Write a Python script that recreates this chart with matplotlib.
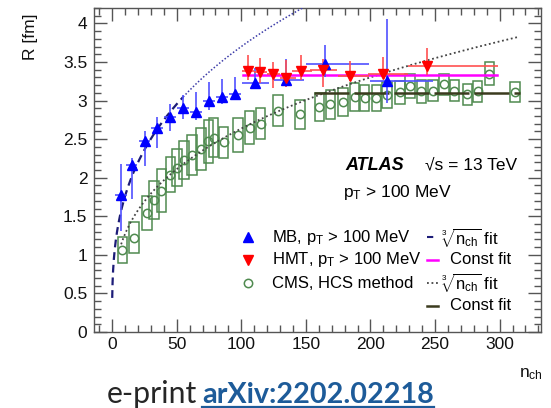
import matplotlib
matplotlib.use('Agg')
import matplotlib.pyplot as plt
import numpy as np
from matplotlib.lines import Line2D
from matplotlib.ticker import MultipleLocator

plt.rcParams['font.family'] = ['Liberation Sans', 'DejaVu Sans']
plt.rcParams['mathtext.fontset'] = 'custom'
plt.rcParams['mathtext.rm'] = 'Liberation Sans'
plt.rcParams['mathtext.it'] = 'Liberation Sans:italic'
plt.rcParams['mathtext.bf'] = 'Liberation Sans:bold'

# ---------------- data ----------------
# ATLAS MB, pT > 100 MeV
mb_n = [6.7, 15.1, 25.2, 35.0, 45.0, 55.0, 65.0, 75.0, 85.0, 95.0, 110.8, 135.0, 165.0, 213.0]
mb_R = [1.78, 2.17, 2.47, 2.65, 2.79, 2.91, 2.85, 2.99, 3.05, 3.08, 3.23, 3.27, 3.48, 3.26]
mb_err_lo = [0.47, 0.45, 0.32, 0.26, 0.18, 0.15, 0.10, 0.11, 0.10, 0.07, 0.07, 0.09, 0.17, 0.29]
mb_err_hi = [0.40, 0.08, 0.14, 0.14, 0.16, 0.16, 0.26, 0.25, 0.23, 0.22, 0.19, 0.27, 0.24, 0.80]
mb_xerr_lo = [4.5, 4.5, 4.5, 4.5, 4.5, 4.5, 4.5, 4.5, 4.5, 4.5, 10.5, 10.0, 15.0, 13.0]
mb_xerr_hi = [4.5, 4.5, 4.5, 4.5, 4.5, 4.5, 4.5, 4.5, 4.5, 4.5, 11.0, 13.5, 33.5, 35.5]

# ATLAS HMT, pT > 100 MeV
hmt_n = [105.0, 114.6, 124.6, 135.0, 146.4, 163.0, 184.0, 210.0, 244.0]
hmt_R = [3.38, 3.37, 3.34, 3.29, 3.38, 3.39, 3.32, 3.35, 3.45]
hmt_err_lo = [0.11, 0.14, 0.18, 0.11, 0.11, 0.21, 0.07, 0.06, 0.12]
hmt_err_hi = [0.21, 0.18, 0.16, 0.24, 0.21, 0.15, 0.19, 0.21, 0.23]
hmt_xerr_lo = [4.5, 4.5, 5.0, 5.0, 7.5, 9.5, 9.0, 12.0, 15.0]
hmt_xerr_hi = [5.0, 5.0, 5.0, 7.5, 8.5, 11.0, 14.5, 19.0, 54.5]

# CMS, HCS method
cms_n = [7.9, 16.9, 27.2, 32.3, 38.2, 45.1, 50.2, 55.5, 61.8, 69.0, 74.6, 78.5, 86.4, 97.5,
         106.5, 115.0, 128.3, 145.5, 160.5, 169.0, 178.7, 187.7, 195.4, 204.5, 213.0, 222.8,
         230.5, 239.5, 248.5, 256.9, 265.0, 275.0, 283.0, 292.0, 312.0]
cms_R = [1.065, 1.22, 1.54, 1.71, 1.83, 2.04, 2.13, 2.23, 2.29, 2.37, 2.47, 2.52, 2.46, 2.55,
         2.65, 2.70, 2.87, 2.82, 2.92, 2.95, 2.98, 3.05, 3.03, 3.03, 3.07, 3.11,
         3.19, 3.12, 3.13, 3.21, 3.13, 3.08, 3.12, 3.35, 3.11]
cms_syst = [0.17, 0.20, 0.22, 0.25, 0.28, 0.23, 0.24, 0.25, 0.26, 0.27, 0.28, 0.25, 0.20, 0.22,
            0.21, 0.20, 0.20, 0.19, 0.18, 0.19, 0.18, 0.18, 0.17, 0.17, 0.17, 0.15,
            0.16, 0.15, 0.14, 0.14, 0.14, 0.14, 0.14, 0.15, 0.13]

# fits: R = a * n^(1/3) + b, and constants
mb_fit_a, mb_fit_b = 0.78, 0.08
mb_fit_range = (0.1, 55.0)
mb_fit_extrap_end = 160.0
cms_fit_a, cms_fit_b = 0.55, 0.085
cms_fit_range = (7.0, 315.0)
hmt_const = 3.33
hmt_const_range = (101.0, 298.0)
cms_const = 3.10
cms_const_range = (156.0, 316.0)

x_ticks = [0, 50, 100, 150, 200, 250, 300]
y_ticks = [0, 0.5, 1, 1.5, 2, 2.5, 3, 3.5, 4]

# ---------------- figure ----------------
W, H = 551, 408
fig = plt.figure(figsize=(W / 100, H / 100), dpi=100)
ax = fig.add_axes([94 / W, 1 - 332 / H, (541 - 94) / W, (332 - 8) / H])

def fx(px):
    return px / W

def fy(py):
    return 1 - py / H

GREEN = '#4f8a4f'
BLUE = '#0000ff'
RED = '#ff0000'
NAVY = '#1c1c78'
MAG = '#ff00ff'
OLIVE = '#3b3b1e'

# CMS systematic boxes
cms_n_a = np.array(cms_n)
cms_R_a = np.array(cms_R)
cms_s_a = np.array(cms_syst)
ax.bar(cms_n_a, 2 * cms_s_a, bottom=cms_R_a - cms_s_a, width=7.4, fill=False,
       edgecolor=GREEN, linewidth=1.1, zorder=2)
ax.plot(cms_n, cms_R, linestyle='none', marker='o', markersize=6, markerfacecolor='none',
        markeredgecolor=GREEN, markeredgewidth=1.1, zorder=3)

# fits
n1 = np.linspace(*mb_fit_range, 400)
ax.plot(n1, mb_fit_a * np.cbrt(n1) + mb_fit_b, color=NAVY, lw=1.6, dashes=(3.5, 2.2), zorder=4)
n2 = np.linspace(mb_fit_range[1], mb_fit_extrap_end, 300)
ax.plot(n2, mb_fit_a * np.cbrt(n2) + mb_fit_b, color='#3c3ca8', lw=1.1, dashes=(1, 1.3), zorder=4)
n3 = np.linspace(*cms_fit_range, 400)
ax.plot(n3, cms_fit_a * np.cbrt(n3) + cms_fit_b, color='#444444', lw=1.3, dashes=(1, 1.5), zorder=4)
ax.plot(hmt_const_range, [hmt_const, hmt_const], color=MAG, lw=1.8, zorder=4)
ax.plot(cms_const_range, [cms_const, cms_const], color=OLIVE, lw=1.8, dashes=(14, 2), zorder=4)

# ATLAS points
ax.errorbar(mb_n, mb_R, yerr=[mb_err_lo, mb_err_hi], xerr=[mb_xerr_lo, mb_xerr_hi], fmt='none',
            ecolor='#5050ff', elinewidth=1.2, capsize=0, zorder=5)
ax.plot(mb_n, mb_R, linestyle='none', marker='^', markersize=7.5, color=BLUE, zorder=6)
ax.errorbar(hmt_n, hmt_R, yerr=[hmt_err_lo, hmt_err_hi], xerr=[hmt_xerr_lo, hmt_xerr_hi], fmt='none',
            ecolor='#ff5050', elinewidth=1.2, capsize=0, zorder=5)
ax.plot(hmt_n, hmt_R, linestyle='none', marker='v', markersize=7.5, color=RED, zorder=6)

# axes styling
ax.set_xlim(-14, 332)
ax.set_ylim(0, 4.2)
ax.set_xticks(x_ticks)
ax.set_yticks(y_ticks)
ax.set_yticklabels(['0', '0.5', '1', '1.5', '2', '2.5', '3', '3.5', '4'])
ax.xaxis.set_minor_locator(MultipleLocator(10))
ax.yaxis.set_minor_locator(MultipleLocator(0.1))
SP = '#555555'
for s in ax.spines.values():
    s.set_color(SP)
    s.set_linewidth(1.0)
ax.tick_params(which='both', direction='in', top=True, right=True, color=SP, width=1.0,
               labelsize=12.5, labelcolor='#111111')
ax.tick_params(which='major', length=9.5)
ax.tick_params(which='minor', length=5)
ax.tick_params(axis='y', which='major', pad=4.8)
ax.tick_params(axis='x', which='major', pad=3.5)

# axis labels
fig.text(fx(30.5), fy(13), 'R [fm]', rotation=90, ha='center', va='top', fontsize=12.5, color='#111111')
fig.text(fx(543), fy(377), r'n$_{\mathrm{ch}}$', ha='right', va='baseline', fontsize=12.5, color='#111111')

# ATLAS label
fig.text(fx(345), fy(165), 'ATLAS', fontsize=13, fontweight='bold', fontstyle='italic',
         va='center', ha='left', color='black')
fig.text(fx(425), fy(165), '\u221as = 13 TeV', fontsize=12.5, va='center', ha='left', color='black')
fig.text(fx(343), fy(193), r'p$_{\mathrm{T}}$ > 100 MeV', fontsize=12.5, va='center', ha='left', color='black')

# legend (manual)
rows = [237, 259.5, 283, 306]
mx = 248
tx1 = 272
lx0, lx1 = 427, 438
tx2_root = 441
tx2_const = 450
tr = fig.transFigure
def glyph(py, **kw):
    fig.add_artist(Line2D([fx(mx)], [fy(py)], transform=tr, linestyle='none', **kw))
def seg(py, **kw):
    fig.add_artist(Line2D([fx(lx0), fx(lx1)], [fy(py), fy(py)], transform=tr, **kw))

glyph(rows[0], marker='^', markersize=7.5, color=BLUE)
glyph(rows[1], marker='v', markersize=7.5, color=RED)
glyph(rows[2], marker='o', markersize=6, markerfacecolor='none', markeredgecolor=GREEN, markeredgewidth=1.1)
seg(rows[0], color=NAVY, lw=1.5, dashes=(3, 2.5))
seg(rows[1], color=MAG, lw=1.8)
seg(rows[2], color='#444444', lw=1.3, dashes=(1, 1.5))
seg(rows[3], color=OLIVE, lw=1.8)

leg1 = [r'MB, p$_{\mathrm{T}}$ > 100 MeV', r'HMT, p$_{\mathrm{T}}$ > 100 MeV', 'CMS, HCS method']
for py, t in zip(rows, leg1):
    fig.text(fx(tx1), fy(py), t, fontsize=12, va='center', ha='left', color='black')
leg2 = [r'$\sqrt[3]{\mathrm{n_{ch}}}$ fit', 'Const fit', r'$\sqrt[3]{\mathrm{n_{ch}}}$ fit', 'Const fit']
for py, t in zip(rows, leg2):
    x0 = tx2_const if t.startswith('Const') else tx2_root
    fig.text(fx(x0), fy(py), t, fontsize=12, va='center', ha='left', color='black')

# bottom caption
t1 = fig.text(fx(107), fy(403), 'e-print', fontsize=22, family=['Lato', 'DejaVu Sans'],
              va='baseline', ha='left', color='#262626')
t2 = fig.text(fx(202), fy(403), 'arXiv:2202.02218', fontsize=22, fontweight='bold',
              family=['Lato', 'DejaVu Sans'], va='baseline', ha='left', color='#1d5b99')
fig.canvas.draw()
r = fig.canvas.get_renderer()
w1 = t1.get_window_extent(r).width
w2 = t2.get_window_extent(r).width
t1.set_fontsize(22 * 90 / w1)
t2.set_fontsize(22 * 231 / w2)
fig.canvas.draw()
bb = t2.get_window_extent(r)
fig.add_artist(Line2D([bb.x0 / W, bb.x1 / W], [fy(406.5), fy(406.5)], transform=tr,
                      color='#1d5b99', lw=1.6))

fig.savefig('out.png', dpi=100)
